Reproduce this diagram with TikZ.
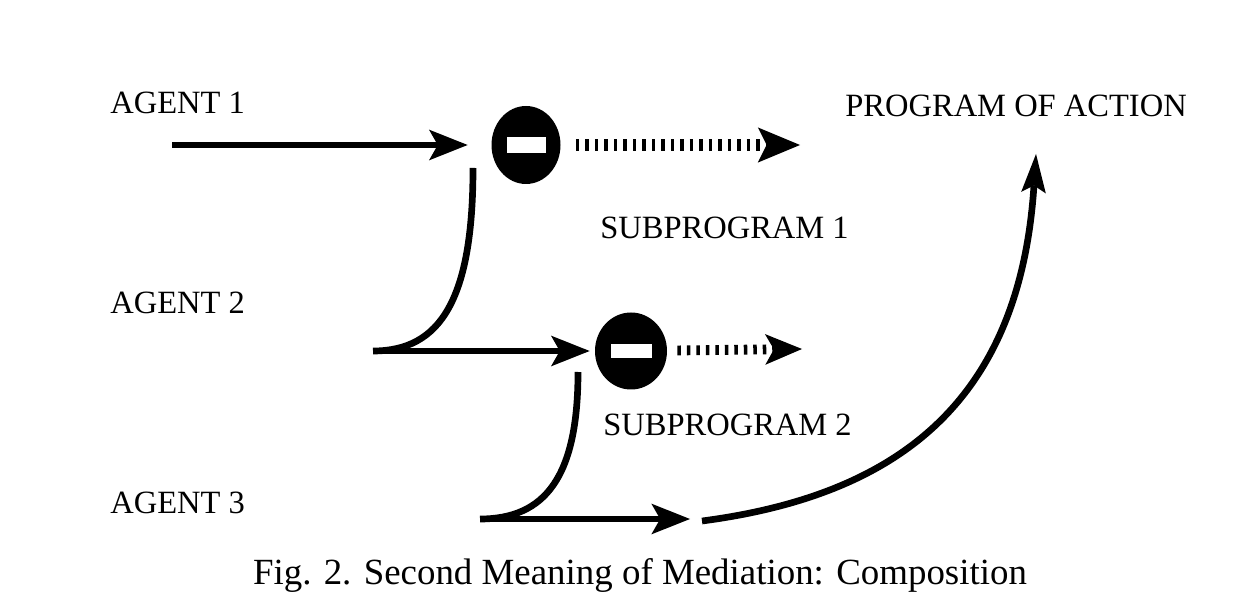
\documentclass[tikz,border=0pt]{standalone}
\usepackage{fontspec}
\setmainfont{Liberation Serif}
\usepackage{tikz}
\usetikzlibrary{arrows.meta, shapes.geometric, positioning}

\tikzset{
	agent/.style={anchor=base west, inner sep=0pt, font=\fontsize{18.5}{22}\selectfont},
	mediator/.style={ellipse, fill=black, minimum width=1.38cm, minimum height=1.56cm, inner sep=0pt},
	minusbar/.style={rectangle, fill=white, minimum width=0.78cm, minimum height=0.31cm, inner sep=0pt},
	link/.style={line width=3.8pt, -{Stealth[length=22pt, width=17.5pt, inset=5pt, line width=0pt]}},
	bendline/.style={line width=3.8pt},
	subarrow/.style={line width=6.8pt, dash pattern=on 2pt off 3.4pt, -{Stealth[length=24pt, width=20pt, inset=5pt, line width=0pt]}},
}

\begin{document}
\begin{tikzpicture}
		\useasboundingbox (0,0) rectangle (24.92,-12.28);
		%% labels
		\node[agent] (ag1) at (2.2,-2.27) {AGENT 1};
		\node[agent] (ag2) at (2.2,-6.27) {AGENT 2};
		\node[agent] (ag3) at (2.2,-10.27) {AGENT 3};
		\node[agent] (poa) at (16.9,-2.33) {PROGRAM OF ACTION};
		\node[agent] (sub1) at (12.0,-4.78) {SUBPROGRAM 1};
		\node[agent] (sub2) at (12.06,-8.7) {SUBPROGRAM 2};
		\node[anchor=base, inner sep=0pt, font=\fontsize{21}{25}\selectfont] (cap) at (12.8,-11.68) {Fig. 2. Second Meaning of Mediation: Composition};
		
		%% mediators
		\node[mediator] (m1) at (10.52,-2.9) {};
		\node[minusbar] (m1bar) at (m1) {};
		\node[mediator, minimum width=1.44cm, minimum height=1.54cm] (m2) at (12.62,-7.02) {};
		\node[minusbar, minimum width=0.82cm, minimum height=0.28cm] (m2bar) at (m2) {};
		
		\coordinate (s1) at (3.44,-2.9);
		\coordinate (c1) at (9.46,-3.36);
		\coordinate (j2) at (7.46,-7.02);
		\coordinate (c2) at (11.56,-7.44);
		\coordinate (j3) at (9.6,-10.38);
		\coordinate (t3) at (13.8,-10.38);
		\coordinate (b3) at (14.04,-10.42);
		\coordinate (t4) at (20.72,-3.08);
		\coordinate (p1) at (16.0,-2.9);
		\coordinate (p2) at (16.04,-6.98);
		
		\draw[link, shorten >=0.47cm] (s1) -- (m1);
		\draw[subarrow, shorten <=0.3cm] (m1) -- (p1);
		\draw[bendline] (c1) .. controls (9.46,-6.0) and (8.8,-7.02) .. (j2);
		\draw[link, shorten >=0.1cm] (j2) -- (m2);
		\draw[subarrow, line width=5.6pt, shorten <=0.2cm, -{Stealth[length=21pt, width=17.5pt, inset=5pt, line width=0pt]}] (m2) -- (p2);
		\draw[bendline] (c2) .. controls (11.56,-9.54) and (10.9,-10.38) .. (j3);
		\draw[link] (j3) -- (t3);
		\draw[link, -{Stealth[length=22pt, width=14pt, inset=4pt, line width=0pt]}] (b3) .. controls (18.0,-9.9) and (20.4,-8.0) .. (t4);
\end{tikzpicture}
\end{document}
